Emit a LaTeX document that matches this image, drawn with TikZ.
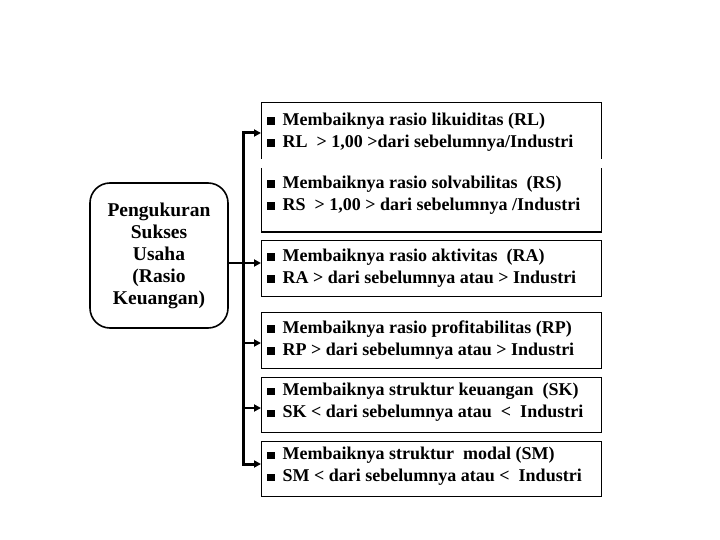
\documentclass[tikz,border=0pt]{standalone}
\usepackage{fontspec}
\setmainfont{Liberation Serif}
\usetikzlibrary{arrows.meta}
\newcommand{\sqb}{\rule[0.5pt]{7.5pt}{7.5pt}\hspace{8pt}}
\begin{document}
\begin{tikzpicture}[x=1pt,y=-1pt,
  frame/.style={draw=none, minimum width=340pt, inner sep=0pt, outer sep=0pt},
  boxline/.style={draw=black, line width=1pt},
  txt/.style={font=\fontsize{18}{22}\bfseries\selectfont, align=left, anchor=west, inner sep=0pt},
  tip/.style={-{Triangle[length=7pt,width=7pt]}},
  link/.style={line width=2.5pt, line join=miter}]
\useasboundingbox (0,0) rectangle (720,540);
\fill[white] (0,0) rectangle (720,540);

% main rounded box
\node[draw=black, line width=1.6pt, rounded corners=20pt, minimum width=138pt, minimum height=145pt,
      inner sep=0pt, align=center, font=\fontsize{19.5}{22}\bfseries\selectfont] (main) at (159,255.5)
      {Pengukuran\\Sukses\\Usaha\\(Rasio\\Keuangan)};

% right-hand boxes (frames)
\node[frame, minimum height=56pt] (b1) at (431,131) {};
\node[frame, minimum height=64pt] (b2) at (431,200) {};
\node[frame, minimum height=56pt, boxline] (b3) at (431,268) {};
\node[frame, minimum height=56pt, boxline] (b4) at (431,340) {};
\node[frame, minimum height=55pt, boxline] (b5) at (431,404.5) {};
\node[frame, minimum height=55pt, boxline] (b6) at (431,468.5) {};
\draw[boxline] (b1.south west) -- (b1.north west) -- (b1.north east) -- (b1.south east);
\draw[boxline] (b2.north west) -- (b2.south west) -- (b2.south east) -- (b2.north east);

% texts
\node[txt] (x1) at (267,132) {\sqb Membaiknya rasio likuiditas (RL)\\\sqb RL~~> 1,00 >dari sebelumnya/Industri};
\node[txt] (x2) at (267,195) {\sqb Membaiknya rasio solvabilitas~~(RS)\\\sqb RS~~> 1,00 > dari sebelumnya /Industri};
\node[txt] (x3) at (267,268) {\sqb Membaiknya rasio aktivitas~~(RA)\\\sqb RA > dari sebelumnya atau > Industri};
\node[txt] (x4) at (267,340) {\sqb Membaiknya rasio profitabilitas (RP)\\\sqb RP > dari sebelumnya atau > Industri};
\node[txt] (x5) at (267,402.5) {\sqb Membaiknya struktur keuangan~~(SK)\\\sqb SK < dari sebelumnya atau~~<~~Industri};
\node[txt] (x6) at (267,466.5) {\sqb Membaiknya struktur~~modal (SM)\\\sqb SM < dari sebelumnya atau < ~Industri};

% connectors
\coordinate (t1) at (243,133);
\coordinate (t3) at (243,263);
\coordinate (t4) at (243,343);
\coordinate (t5) at (243,408);
\coordinate (t6) at (243,464);
\draw[link, line width=3pt, {Triangle[length=7pt,width=7pt]}-{Triangle[length=7pt,width=7pt]}]
   (b1.west |- t1) -- (t1) -- (t6) -- (b6.west |- t6);
\draw[link, tip] (main.east |- t3) -- (b3.west |- t3);
\draw[link, tip] (t4) -- (b4.west |- t4);
\draw[link, tip] (t5) -- (b5.west |- t5);
\end{tikzpicture}
\end{document}
